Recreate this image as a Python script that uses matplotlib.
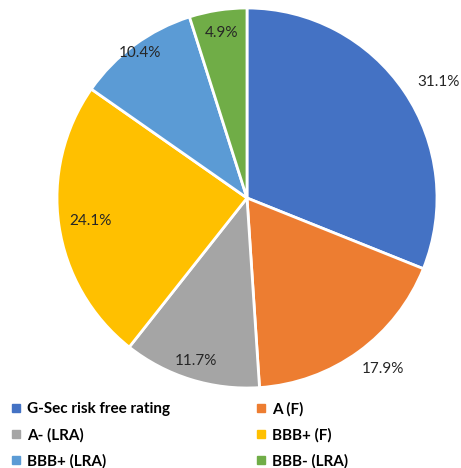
import numpy as np
import matplotlib.pyplot as plt
from matplotlib.lines import Line2D

categories = ['G-Sec risk free rating', 'A (F)', 'A- (LRA)', 'BBB+ (F)', 'BBB+ (LRA)', 'BBB- (LRA)']
shares = [31.1, 17.9, 11.7, 24.1, 10.4, 4.9]
colors = ['#4472C4', '#ED7D31', '#A5A5A5', '#FFC000', '#5B9BD5', '#70AD47']
# label placement (fraction of radius, angle nudge in degrees), Excel "best fit" style
label_dist = [1.18, 1.15, 0.90, 0.83, 0.95, 0.88]
label_nudge = [-3, 2.5, 0, 0, 0, 0]

plt.rcParams['font.family'] = ['Lato', 'DejaVu Sans']

fig = plt.figure(figsize=(4.61, 4.68), dpi=100)
ax = fig.add_axes([57 / 461, 80 / 468, 380 / 461, 380 / 468])

wedges, _ = ax.pie(shares, colors=colors, startangle=90, counterclock=False,
                   wedgeprops=dict(edgecolor='white', linewidth=2))
ax.set_xlim(-1, 1)
ax.set_ylim(-1, 1)
ax.set_aspect('equal')

for w, v, d, n in zip(wedges, shares, label_dist, label_nudge):
    ang = np.deg2rad((w.theta1 + w.theta2) / 2 + n)
    ax.text(d * np.cos(ang), d * np.sin(ang), f'{v}%', ha='center', va='center',
            fontsize=11, color='#262626')

handles = [Line2D([], [], marker='s', linestyle='', markersize=5.5, color=c) for c in colors]
# reorder so rows read left-right like the original
order = [0, 2, 4, 1, 3, 5]
fig.legend([handles[i] for i in order], [categories[i] for i in order], ncol=2,
           loc='lower left', bbox_to_anchor=(-0.006, -0.03), frameon=False,
           prop=dict(weight='bold', size=11), handlelength=0.7, handletextpad=0.35,
           columnspacing=5.6, labelspacing=0.75)

fig.savefig('out.png', dpi=100)
